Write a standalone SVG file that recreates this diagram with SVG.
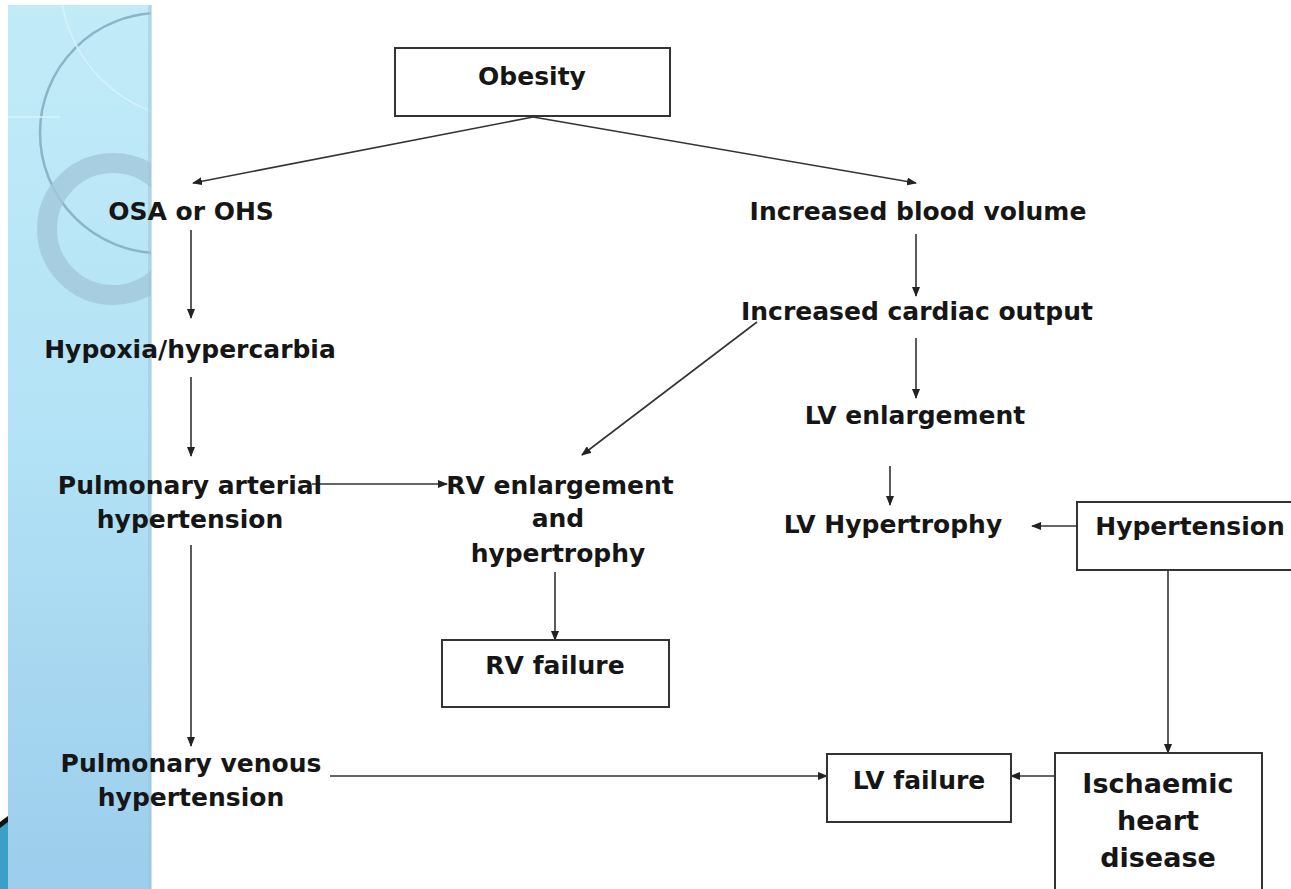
<svg xmlns="http://www.w3.org/2000/svg" width="1291" height="889" viewBox="0 0 1291 889">
<style>
.t{font-family:"DejaVu Sans","Liberation Sans",sans-serif;font-size:25px;font-weight:bold;fill:#161616;text-anchor:middle}
.b{fill:#fff;stroke:#333;stroke-width:2}
.c{stroke:#333;stroke-width:1.6;fill:none}
.a{marker-end:url(#ah)}
</style>
<defs>
<marker id="ah" markerWidth="10" markerHeight="8" refX="9" refY="4" orient="auto" markerUnits="userSpaceOnUse">
<path d="M0,0 L10,4 L0,8 z" fill="#222"/>
</marker>
<linearGradient id="bg" x1="0" y1="0" x2="0" y2="1">
<stop offset="0" stop-color="#c2ebf8"/>
<stop offset="0.5" stop-color="#b2e2f5"/>
<stop offset="1" stop-color="#9ccdec"/>
</linearGradient>
<clipPath id="strip"><rect x="8" y="5" width="143" height="884"/></clipPath>
</defs>
<rect width="1291" height="889" fill="#fff"/>
<g id="decor">
<rect x="8" y="5" width="143" height="884" fill="url(#bg)"/>
<g clip-path="url(#strip)">
<circle cx="160" cy="133" r="120" fill="none" stroke="#8bb4c8" stroke-width="2.5"/>
<circle cx="200" cy="-20" r="140" fill="none" stroke="#d6f2fb" stroke-width="1.5"/>
<line x1="8" y1="117" x2="60" y2="117" stroke="#d6f2fb" stroke-width="1.5"/>
<circle cx="113" cy="229" r="66" fill="none" stroke="#a3c8db" stroke-width="20" opacity="0.8"/>
</g>
<rect x="148" y="5" width="4" height="884" fill="#9bc3d8" opacity="0.5"/>
<path d="M0,825 Q5,822 8,820 L8,889 L0,889 z" fill="#3aa0c8"/>
<path d="M0,822 Q5,818 8,816 L8,822 Q4,825 0,828 z" fill="#111"/>
</g>
<g id="connectors">
<line class="c a" x1="533" y1="117" x2="193" y2="183"/>
<line class="c a" x1="533" y1="117" x2="916" y2="183"/>
<line class="c a" x1="191" y1="230" x2="191" y2="318"/>
<line class="c a" x1="191" y1="377" x2="191" y2="456"/>
<line class="c a" x1="191" y1="545" x2="191" y2="746"/>
<line class="c a" x1="312" y1="484" x2="447" y2="484"/>
<line class="c a" x1="555" y1="572" x2="555" y2="640"/>
<line class="c a" x1="916" y1="234" x2="916" y2="296"/>
<line class="c a" x1="916" y1="338" x2="916" y2="398"/>
<line class="c a" x1="890" y1="466" x2="890" y2="505"/>
<line class="c a" x1="757" y1="322" x2="582" y2="455"/>
<line class="c a" x1="1077" y1="526" x2="1032" y2="526"/>
<line class="c a" x1="1168" y1="570" x2="1168" y2="753"/>
<line class="c a" x1="330" y1="776" x2="827" y2="776"/>
<line class="c a" x1="1055" y1="776" x2="1011" y2="776"/>
</g>
<g id="obesity"><rect class="b" x="395" y="48" width="275" height="68"/><text class="t" x="532" y="85">Obesity</text></g>
<g id="osa"><text class="t" x="191" y="220">OSA or OHS</text></g>
<g id="blood-volume"><text class="t" x="918" y="220">Increased blood volume</text></g>
<g id="cardiac-output"><text class="t" x="917" y="320">Increased cardiac output</text></g>
<g id="hypoxia"><text class="t" x="190" y="358">Hypoxia/hypercarbia</text></g>
<g id="lv-enlargement"><text class="t" x="915" y="424">LV enlargement</text></g>
<g id="pah"><text class="t" x="190" y="494">Pulmonary arterial</text><text class="t" x="190" y="528">hypertension</text></g>
<g id="rv-enlargement"><text class="t" x="560" y="494">RV enlargement</text><text class="t" x="558" y="527">and</text><text class="t" x="558" y="562">hypertrophy</text></g>
<g id="lv-hypertrophy"><text class="t" x="893" y="533">LV Hypertrophy</text></g>
<g id="hypertension"><rect class="b" x="1077" y="502" width="220" height="68"/><text class="t" x="1190" y="535">Hypertension</text></g>
<g id="rv-failure"><rect class="b" x="442" y="640" width="227" height="67"/><text class="t" x="555" y="674">RV failure</text></g>
<g id="pvh"><text class="t" x="191" y="772">Pulmonary venous</text><text class="t" x="191" y="806">hypertension</text></g>
<g id="lv-failure"><rect class="b" x="827" y="754" width="184" height="68"/><text class="t" x="919" y="789">LV failure</text></g>
<g id="ihd"><rect class="b" x="1055" y="753" width="207" height="140"/><text class="t" x="1158" y="793" style="font-size:27px">Ischaemic</text><text class="t" x="1158" y="830" style="font-size:27px">heart</text><text class="t" x="1158" y="867" style="font-size:27px">disease</text></g>
</svg>
